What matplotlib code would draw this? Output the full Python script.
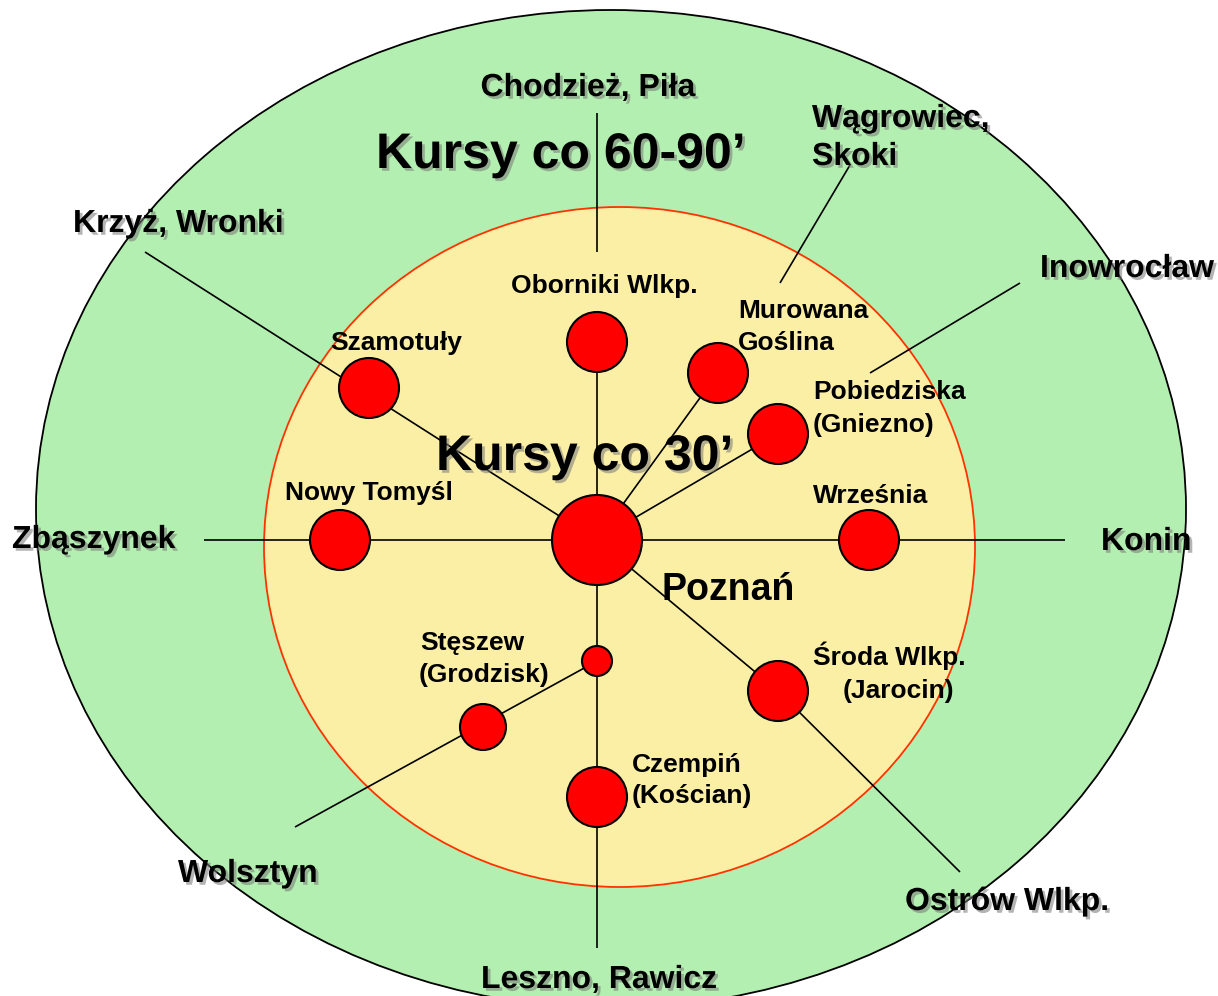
import matplotlib.pyplot as plt
from matplotlib.patches import Circle, Ellipse
import matplotlib.patheffects as pe

# ==========================
# Dane (współrzędne w pikselach obrazu, oś y w dół)
# ==========================

# strefy: (środek x, środek y, półoś a, półoś b)
outer_zone = (611, 509, 575, 499)
inner_zone = (619.5, 547, 355.5, 340)

# węzły (stacje)
node_names = ["Poznań", "Oborniki Wlkp.", "Murowana Goślina", "Pobiedziska",
              "Września", "Środa Wlkp.", "Czempiń", "Stęszew", "Stęszew 2",
              "Nowy Tomyśl", "Szamotuły"]
node_x = [597, 597, 718, 778, 869, 778, 597, 597, 483, 340, 369]
node_y = [540, 342, 373, 434, 540, 691, 797, 661, 727, 540, 388]
node_r = [45, 30, 30, 30, 30, 30, 30, 15, 23, 30, 30]

# linie (x0, y0, x1, y1)
line_x0 = [597, 597, 597, 204, 145, 597, 597, 597, 778, 597, 850, 1020]
line_y0 = [113, 342, 540, 540, 252, 540, 540, 540, 691, 661, 165, 283]
line_x1 = [597, 597, 597, 1065, 597, 718, 778, 778, 960, 295, 780, 870]
line_y1 = [252, 540, 948, 540, 540, 373, 434, 691, 872, 827, 283, 373]

# podpisy zewnętrzne (z cieniem)
outer_text = ["Chodzież, Piła", "Wągrowiec,", "Skoki", "Krzyż, Wronki",
              "Inowrocław", "Zbąszynek", "Konin", "Wolsztyn",
              "Ostrów Wlkp.", "Leszno, Rawicz"]
outer_tx = [588, 812, 812, 73, 1040, 12, 1101, 178, 905, 481]
outer_ty = [96, 127, 165, 232, 277, 548, 550, 882, 910, 988]
outer_ha = ["center", "left", "left", "left", "left", "left", "left",
            "left", "left", "left"]

# podpisy wewnętrzne
inner_text = ["Oborniki Wlkp.", "Murowana", "Goślina", "Pobiedziska",
              "(Gniezno)", "Września", "Szamotuły", "Nowy Tomyśl",
              "Stęszew", "(Grodzisk)", "Środa Wlkp.", "(Jarocin)",
              "Czempiń", "(Kościan)"]
inner_tx = [511, 738, 738, 813, 813, 813, 330, 285, 420, 419, 889, 898, 632, 632]
inner_ty = [293, 318, 350, 399, 432, 503, 350, 500, 650, 682, 665, 698, 772, 803]
inner_ha = ["left", "left", "left", "left", "left", "left", "left", "left",
            "left", "left", "center", "center", "left", "left"]

# tytuły stref
title_text = ["Kursy co 60-90’", "Kursy co 30’"]
title_tx = [376, 436]
title_ty = [168, 470]

# ==========================
# Rysunek
# ==========================

FONT = "Liberation Sans"
shadow = [pe.SimplePatchShadow(offset=(2, -2), shadow_rgbFace="#777777", alpha=0.55),
          pe.Normal()]

fig = plt.figure(figsize=(12.18, 9.96), dpi=100)
ax = fig.add_axes([0, 0, 1, 1])
ax.set_xlim(0, 1218)
ax.set_ylim(996, 0)
ax.axis("off")

cx, cy, a, b = outer_zone
ax.add_patch(Ellipse((cx, cy), 2 * a, 2 * b, facecolor="#B3EFB0",
                     edgecolor="black", linewidth=1.3, zorder=1))
cx, cy, a, b = inner_zone
ax.add_patch(Ellipse((cx, cy), 2 * a, 2 * b, facecolor="#FBEFA6",
                     edgecolor="#FF3300", linewidth=1.3, zorder=2))

for x0, y0, x1, y1 in zip(line_x0, line_y0, line_x1, line_y1):
    ax.plot([x0, x1], [y0, y1], color="black", linewidth=1.2, zorder=3,
            solid_capstyle="butt")

for x, y, r in zip(node_x, node_y, node_r):
    ax.add_patch(Circle((x, y), r, facecolor="#FF0000", edgecolor="black",
                        linewidth=1.5, zorder=4))

for t, x, y, ha in zip(outer_text, outer_tx, outer_ty, outer_ha):
    ax.text(x, y, t, ha=ha, va="baseline", fontsize=23, fontweight="bold",
            family=FONT, path_effects=shadow, zorder=6)

for t, x, y, ha in zip(inner_text, inner_tx, inner_ty, inner_ha):
    ax.text(x, y, t, ha=ha, va="baseline", fontsize=19, fontweight="bold",
            family=FONT, zorder=6)

for t, x, y in zip(title_text, title_tx, title_ty):
    ax.text(x, y, t, ha="left", va="baseline", fontsize=36, fontweight="bold",
            family=FONT, path_effects=shadow, zorder=6)

ax.text(662, 600, "Poznań", ha="left", va="baseline", fontsize=27,
        fontweight="bold", family=FONT, zorder=6)

fig.savefig("out.png", dpi=100)
